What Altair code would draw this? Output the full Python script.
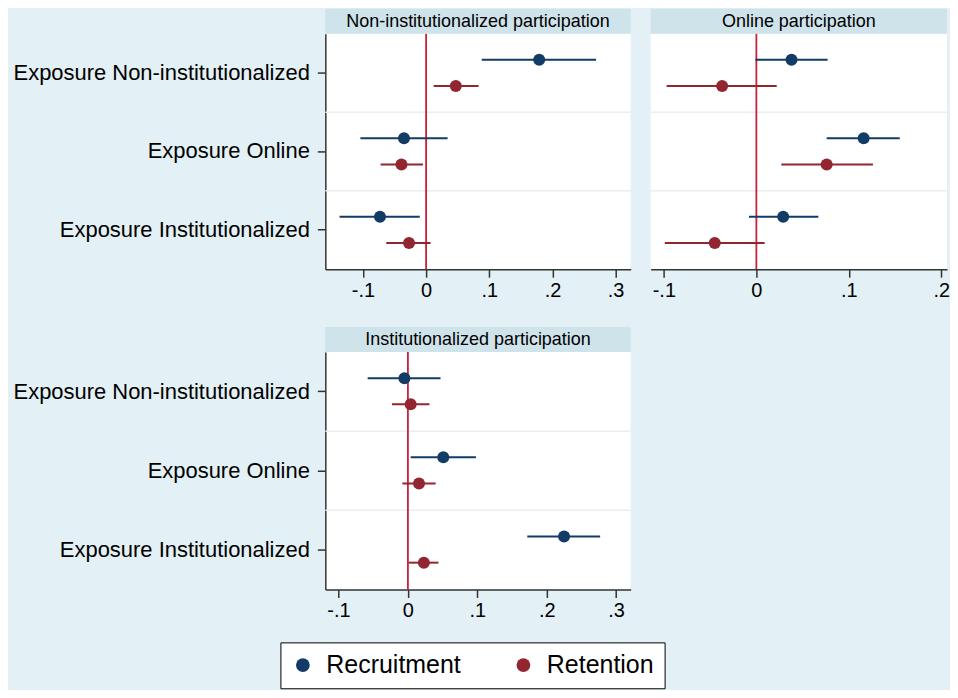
import altair as alt
import pandas as pd

panels = ["Non-institutionalized participation", "Online participation", "Institutionalized participation"]
exposures = ["Exposure Non-institutionalized", "Exposure Online", "Exposure Institutionalized"]
series = ["Recruitment", "Retention"]

# Panel 1: Non-institutionalized participation (order of exposures)
noninst_rec_est = [0.179, -0.035, -0.073]
noninst_rec_lo = [0.088, -0.104, -0.137]
noninst_rec_hi = [0.269, 0.034, -0.010]
noninst_ret_est = [0.047, -0.039, -0.027]
noninst_ret_lo = [0.012, -0.072, -0.063]
noninst_ret_hi = [0.083, -0.005, 0.007]

# Panel 2: Online participation
online_rec_est = [0.038, 0.116, 0.029]
online_rec_lo = [-0.001, 0.076, -0.008]
online_rec_hi = [0.077, 0.155, 0.067]
online_ret_est = [-0.037, 0.076, -0.045]
online_ret_lo = [-0.097, 0.027, -0.099]
online_ret_hi = [0.022, 0.126, 0.009]

# Panel 3: Institutionalized participation
inst_rec_est = [-0.005, 0.051, 0.225]
inst_rec_lo = [-0.058, 0.004, 0.172]
inst_rec_hi = [0.047, 0.098, 0.277]
inst_ret_est = [0.004, 0.016, 0.023]
inst_ret_lo = [-0.023, -0.008, 0.001]
inst_ret_hi = [0.031, 0.040, 0.044]

ticks_wide = [-0.1, 0, 0.1, 0.2, 0.3]
labels_wide = ["-.1", "0", ".1", ".2", ".3"]
ticks_online = [-0.1, 0, 0.1, 0.2]
labels_online = ["-.1", "0", ".1", ".2"]

BLUE = "#123c66"
RED = "#932530"
ZERO = "#cc1f3b"
BG = "#e3f0f5"
HEADER = "#cfe3ea"
SEP = "#e8eef1"
AXIS = "#333333"
FONT = "Liberation Sans"


def frame(rec_est, rec_lo, rec_hi, ret_est, ret_lo, ret_hi):
    rows = []
    for i, e in enumerate(exposures):
        rows.append({"exposure": e, "series": series[0], "est": rec_est[i], "lo": rec_lo[i], "hi": rec_hi[i]})
        rows.append({"exposure": e, "series": series[1], "est": ret_est[i], "lo": ret_lo[i], "hi": ret_hi[i]})
    return pd.DataFrame(rows)


def label_expr(ticks, labels):
    expr = "''"
    for t, l in reversed(list(zip(ticks, labels))):
        expr = f"abs(datum.value - ({t})) < 1e-6 ? '{l}' : ({expr})"
    return expr


legend_obj = alt.Legend(
    title=None, orient="none", legendX=-45, legendY=610, direction="horizontal",
    fillColor="white", strokeColor="black", padding=10, symbolSize=190,
    symbolType="circle", symbolStrokeWidth=0, symbolOpacity=1,
    labelFontSize=25, labelFont=FONT, labelColor="black",
    columnPadding=50, labelOffset=11,
)
color_enc = alt.Color("series:N", sort=series, scale=alt.Scale(domain=series, range=[BLUE, RED]),
                      legend=legend_obj)


def make_panel(title, df, width, height, domain, ticks, labels, y_labels=True):
    x_scale = alt.Scale(domain=domain, nice=False, zero=False)
    x_axis = alt.Axis(values=ticks, labelExpr=label_expr(ticks, labels), title=None, grid=False,
                      labelFontSize=20, labelFont=FONT, labelColor="black", tickSize=8,
                      labelPadding=3, domainColor=AXIS, tickColor=AXIS, domainWidth=1.5,
                      tickWidth=1.5, labelFlush=False)
    if y_labels:
        y_axis = alt.Axis(title=None, grid=False, labelFontSize=22, labelFont=FONT,
                          labelColor="black", tickSize=8, labelPadding=8, domainColor=AXIS,
                          tickColor=AXIS, domainWidth=1.5, tickWidth=1.5, labelLimit=400)
    else:
        y_axis = None
    y_scale = alt.Scale(domain=exposures, paddingInner=0, paddingOuter=0)

    def yenc(**kw):
        return alt.Y("exposure:N", sort=exposures, scale=y_scale, axis=y_axis, **kw)

    yoff = alt.YOffset("series:N", sort=series,
                       scale=alt.Scale(domain=series, paddingInner=0, paddingOuter=0.5))

    sep = alt.Chart(pd.DataFrame({"exposure": exposures[1:]})).mark_rule(
        color=SEP, strokeWidth=1.5).encode(y=yenc(bandPosition=0))
    zero = alt.Chart(pd.DataFrame({"zero": [0.0]})).mark_rule(
        color=ZERO, strokeWidth=1.8).encode(x=alt.X("zero:Q", scale=x_scale, axis=x_axis))
    base = alt.Chart(df)
    bars = base.mark_rule(strokeWidth=2).encode(
        x=alt.X("lo:Q", scale=x_scale, axis=x_axis), x2="hi:Q", y=yenc(), yOffset=yoff, color=color_enc)
    pts = base.mark_circle(size=145, opacity=1).encode(
        x=alt.X("est:Q", scale=x_scale, axis=x_axis), y=yenc(), yOffset=yoff, color=color_enc)
    hdr = alt.Chart(pd.DataFrame({"panel": [title]}))
    hrect = hdr.mark_rect(color=HEADER).encode(
        x=alt.value(0), x2=alt.value(width), y=alt.value(-25), y2=alt.value(0))
    htext = hdr.mark_text(fontSize=18, font=FONT, color="black", align="center", baseline="middle").encode(
        x=alt.value(width / 2), y=alt.value(-12), text="panel:N")
    return alt.layer(sep, zero, bars, pts, hrect, htext).properties(width=width, height=height)


p1 = make_panel(panels[0], frame(noninst_rec_est, noninst_rec_lo, noninst_rec_hi,
                                 noninst_ret_est, noninst_ret_lo, noninst_ret_hi),
                306, 236, [-0.1595, 0.3238], ticks_wide, labels_wide, y_labels=True)
p2 = make_panel(panels[1], frame(online_rec_est, online_rec_lo, online_rec_hi,
                                 online_ret_est, online_ret_lo, online_ret_hi),
                297, 236, [-0.1143, 0.2061], ticks_online, labels_online, y_labels=False)
p3 = make_panel(panels[2], frame(inst_rec_est, inst_rec_lo, inst_rec_hi,
                                 inst_ret_est, inst_ret_lo, inst_ret_hi),
                306, 238, [-0.119, 0.321], ticks_wide, labels_wide, y_labels=True)

top = alt.hconcat(p1, p2, spacing=18)
chart = alt.vconcat(top, p3, spacing=27).properties(
    background=BG, padding={"left": 4, "top": 0, "right": 0, "bottom": 0}
).configure_view(fill="white", stroke=None).configure_concat(spacing=18)

chart.save("out.html", embed_options={"renderer": "svg", "actions": False})
